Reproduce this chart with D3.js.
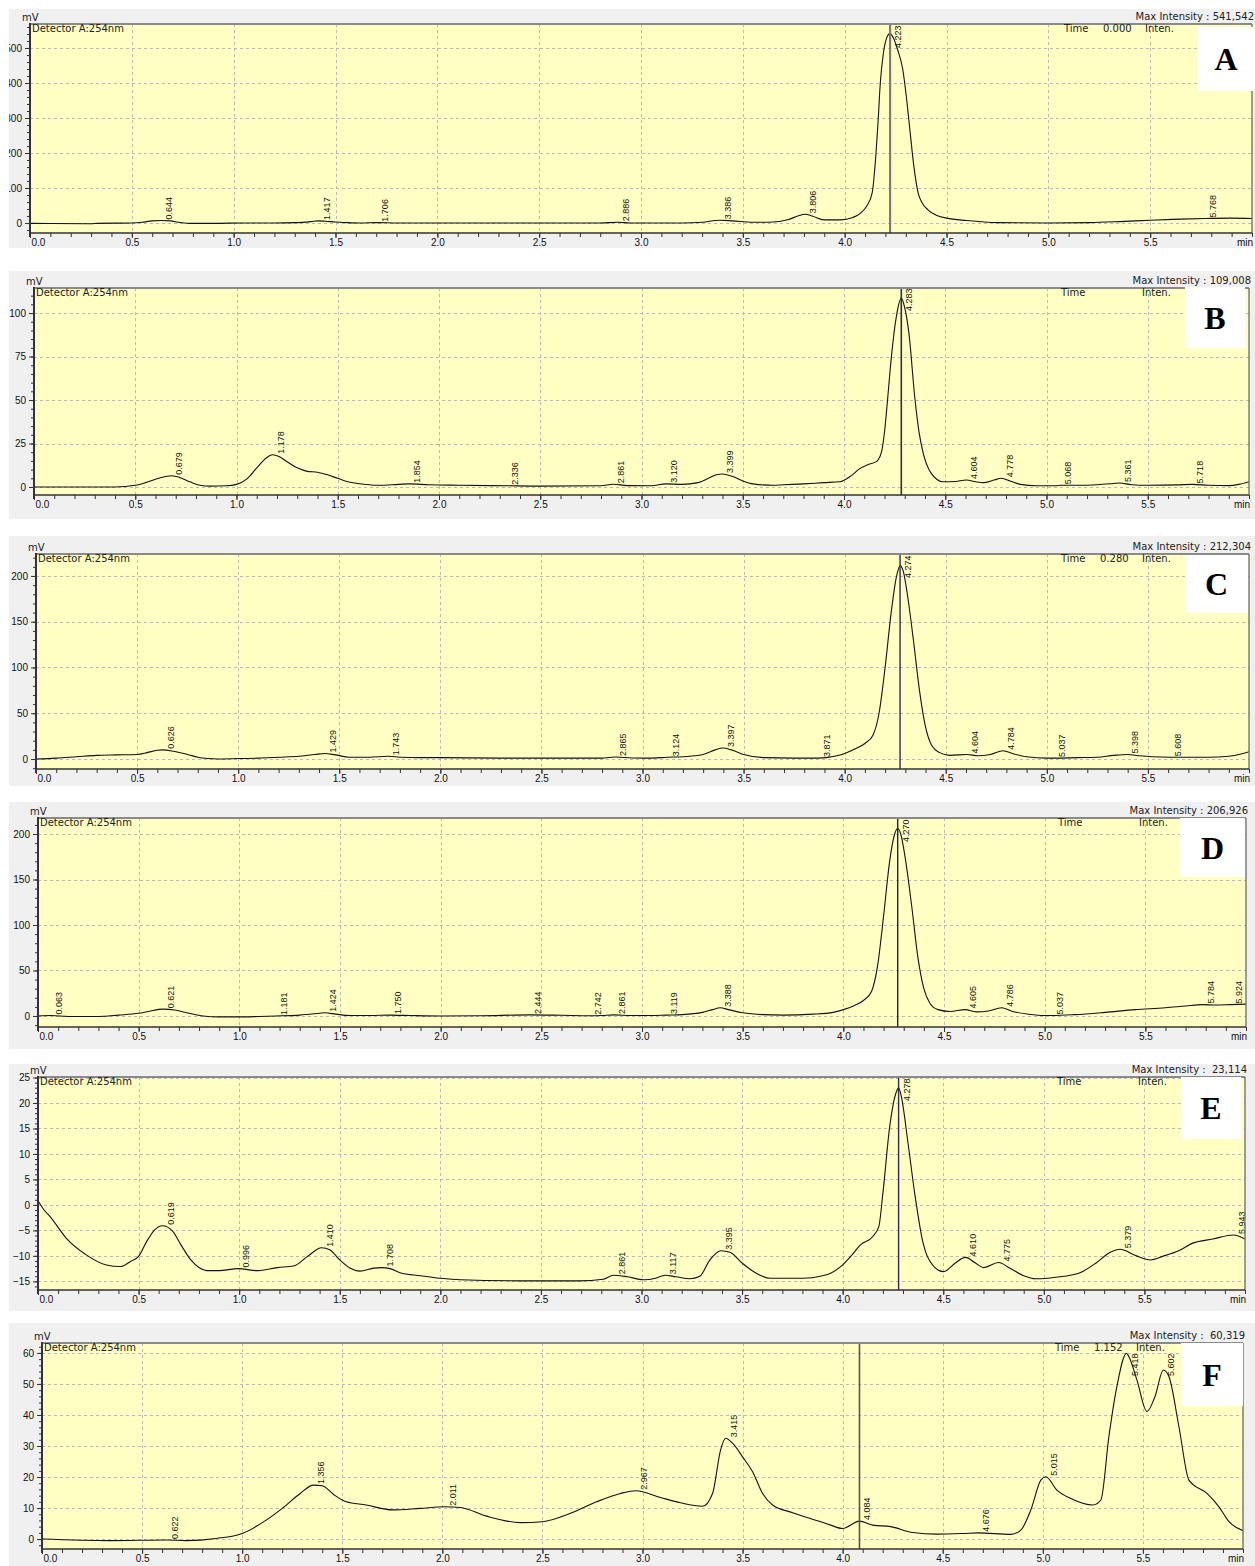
<!DOCTYPE html>
<html><head><meta charset="utf-8">
<script src="https://cdn.jsdelivr.net/npm/d3@7"></script>
<style>body{margin:0;background:#fff} svg{display:block}</style>
</head><body>
<svg id="c" width="1255" height="1566"></svg>
<script>
// ---------- DATA ----------
const traceA = [[0,-1],[0.1,-1.5],[0.3,-2],[0.33,-1],[0.5,0],[0.55,2],[0.6,6],[0.644,7],[0.69,6],[0.72,3],[0.78,-1],[0.9,-1],[1.05,0],[1.2,0],[1.3,1],[1.38,4],[1.417,6],[1.45,5],[1.5,3],[1.56,1],[1.62,0],[1.706,1],[1.8,0],[2.0,0],[2.5,0],[2.8,0],[2.886,2],[2.95,0],[3.2,0],[3.3,2],[3.386,8],[3.45,6],[3.55,2],[3.65,3],[3.72,9],[3.77,20],[3.806,25],[3.84,20],[3.9,9],[3.98,9],[4.04,16],[4.08,29],[4.11,50],[4.135,86],[4.15,170],[4.163,280],[4.175,400],[4.19,485],[4.205,527],[4.222,541],[4.24,528],[4.26,495],[4.285,440],[4.305,350],[4.322,256],[4.34,161],[4.361,85],[4.38,58],[4.41,37],[4.45,22],[4.5,14],[4.6,7],[4.75,1],[5.0,0],[5.2,1],[5.35,4],[5.5,8],[5.65,11],[5.768,13],[5.9,14],[6.0,13]];
const traceB = [[0,0],[0.4,0],[0.5,1],[0.55,2.5],[0.6,4.5],[0.65,6],[0.679,6.5],[0.72,5.5],[0.77,3],[0.82,1],[0.87,0.5],[0.95,0.7],[1.0,1.5],[1.05,4.5],[1.1,11],[1.15,17],[1.178,18.5],[1.21,17.5],[1.25,14.5],[1.3,11],[1.35,9],[1.4,8.5],[1.45,7],[1.5,5],[1.55,3],[1.6,2],[1.7,1],[1.8,1.5],[1.854,1.8],[1.95,1.3],[2.1,1],[2.336,0.7],[2.5,0.5],[2.8,0.7],[2.861,1.6],[2.93,0.8],[3.05,0.7],[3.12,1.8],[3.2,1.5],[3.28,2.5],[3.33,5],[3.37,7],[3.399,7.5],[3.45,6],[3.5,3.5],[3.55,1.8],[3.65,1],[3.7,1.3],[3.8,1.8],[3.9,2.5],[3.98,3],[4.03,6],[4.08,10.7],[4.12,13],[4.16,14.6],[4.185,20],[4.2,31.6],[4.215,50],[4.23,70],[4.26,99],[4.283,108.6],[4.3,103],[4.32,89],[4.35,51],[4.37,32],[4.39,20],[4.43,8],[4.49,3],[4.55,3.2],[4.604,4],[4.65,3],[4.69,2.5],[4.74,4],[4.778,5],[4.82,3.5],[4.87,1.5],[4.95,0.7],[5.05,0.7],[5.068,1],[5.15,1],[5.25,1.3],[5.33,2],[5.361,2.3],[5.42,1.3],[5.5,1],[5.65,1.2],[5.718,1.5],[5.8,1],[5.9,0.8],[5.95,1.5],[6.0,3]];
const traceC = [[0,0],[0.1,1],[0.2,2.5],[0.3,4],[0.4,4.5],[0.5,5],[0.55,7],[0.6,9.5],[0.626,10],[0.68,8.5],[0.75,5],[0.8,2],[0.85,0.5],[0.9,0],[1.0,0.5],[1.1,1],[1.2,2],[1.3,3],[1.38,5],[1.429,6],[1.48,4.5],[1.55,2],[1.65,2],[1.743,3],[1.8,2],[1.9,1.5],[2.0,1.5],[2.3,1],[2.6,1],[2.8,1],[2.865,2.2],[2.95,1.2],[3.05,1],[3.124,2],[3.2,2.5],[3.3,5],[3.36,10],[3.397,12],[3.44,10],[3.5,5],[3.6,1.5],[3.75,1],[3.871,1],[3.95,3],[4.0,6],[4.05,11],[4.1,17],[4.14,26],[4.17,50],[4.2,100],[4.23,160],[4.255,198],[4.274,211],[4.29,205],[4.31,180],[4.34,130],[4.37,75],[4.4,35],[4.43,15],[4.47,7],[4.52,4],[4.604,5],[4.66,3.5],[4.72,5],[4.784,9],[4.83,6],[4.9,2.5],[5.0,1],[5.037,1],[5.15,1.5],[5.25,2],[5.33,4],[5.398,5],[5.46,3.5],[5.52,2.5],[5.608,2],[5.7,2],[5.8,2],[5.9,3],[5.95,5],[6.0,8]];
const traceD = [[0,0],[0.063,0.5],[0.15,-0.5],[0.3,-0.5],[0.4,1],[0.5,3],[0.55,5],[0.621,7.5],[0.68,6.5],[0.75,3],[0.82,0],[0.9,-1],[1.0,-1],[1.1,-0.5],[1.181,0],[1.3,1],[1.4,3],[1.424,3.5],[1.48,2],[1.55,0.5],[1.65,0.5],[1.75,1],[1.85,0.5],[2.0,0],[2.2,0.3],[2.444,1.2],[2.6,0.8],[2.742,0.3],[2.8,0.5],[2.861,1.2],[2.95,0.5],[3.05,0.5],[3.119,1],[3.2,1.5],[3.3,4],[3.35,7],[3.388,9],[3.43,7],[3.5,3.5],[3.6,1.5],[3.7,1],[3.85,2],[3.95,4],[4.0,7],[4.05,11],[4.1,17],[4.14,27],[4.17,55],[4.2,110],[4.23,170],[4.255,200],[4.27,206],[4.285,200],[4.31,170],[4.34,120],[4.37,65],[4.4,30],[4.43,14],[4.47,7],[4.53,5],[4.605,7],[4.66,4.5],[4.72,5.5],[4.786,9],[4.84,5],[4.92,2],[5.0,0.5],[5.037,0.5],[5.15,1.5],[5.3,4],[5.45,7],[5.6,9],[5.7,11],[5.784,12.5],[5.85,12],[5.924,12.5],[6.0,13]];
const traceE = [[0,0.8],[0.03,-1],[0.06,-2.3],[0.14,-6.5],[0.24,-9.8],[0.34,-11.8],[0.41,-12.1],[0.46,-11.1],[0.5,-10.1],[0.54,-7.2],[0.58,-4.9],[0.619,-4.1],[0.67,-5.2],[0.71,-7.8],[0.76,-10.8],[0.84,-12.9],[0.9,-12.9],[0.996,-12.5],[1.09,-12.9],[1.19,-12.3],[1.27,-12],[1.34,-10.1],[1.41,-8.4],[1.45,-8.8],[1.5,-10.8],[1.55,-12.4],[1.6,-13],[1.67,-12.4],[1.708,-12.3],[1.75,-12.5],[1.8,-13.3],[1.9,-13.9],[2.0,-14.4],[2.1,-14.7],[2.4,-14.9],[2.69,-14.9],[2.81,-14.6],[2.861,-13.8],[2.93,-14.1],[3.01,-14.7],[3.07,-14.4],[3.117,-13.8],[3.17,-14.1],[3.24,-14.5],[3.29,-14],[3.34,-10.8],[3.395,-9],[3.44,-9.3],[3.5,-11.4],[3.57,-13.4],[3.64,-14.4],[3.8,-14.4],[3.9,-13.9],[3.94,-13.4],[3.99,-12.1],[4.04,-10.1],[4.09,-7.8],[4.15,-6.2],[4.18,-4.2],[4.2,2.3],[4.234,15.4],[4.267,22.2],[4.278,23],[4.292,21.2],[4.325,12.1],[4.358,2.3],[4.4,-7.5],[4.43,-10.8],[4.5,-13.1],[4.56,-11.4],[4.61,-10.3],[4.66,-11.4],[4.7,-12.3],[4.775,-11.3],[4.83,-12.4],[4.9,-13.9],[4.96,-14.5],[5.06,-14.2],[5.18,-13.3],[5.26,-11.4],[5.33,-9.3],[5.379,-8.7],[5.46,-10],[5.53,-10.8],[5.59,-10.1],[5.67,-9],[5.74,-7.5],[5.84,-6.7],[5.943,-5.9],[6.0,-6.7]];
const traceF = [[0,0],[0.34,-0.5],[0.622,-0.3],[0.72,-0.5],[0.87,0.2],[1.0,1.8],[1.12,6.1],[1.2,9.9],[1.29,14.7],[1.356,17.4],[1.4,17.2],[1.46,14.2],[1.52,12],[1.62,11],[1.75,9.4],[1.89,9.9],[2.011,10.4],[2.09,10.2],[2.22,7.4],[2.39,5.3],[2.5,5.6],[2.64,8.3],[2.77,12],[2.89,14.7],[2.967,15.6],[3.09,13.4],[3.19,11.7],[3.3,10.6],[3.35,14.7],[3.39,28.7],[3.415,32.5],[3.45,30.9],[3.5,26.5],[3.55,21.7],[3.6,14.7],[3.65,11],[3.75,8.5],[3.89,5.6],[3.94,4.5],[4.0,3.4],[4.084,5.8],[4.15,4.5],[4.24,4],[4.35,2.1],[4.47,1.6],[4.6,1.8],[4.676,2],[4.84,1.5],[4.89,2.9],[4.94,9.4],[4.99,19],[5.015,20.1],[5.07,15.8],[5.14,13.1],[5.25,11],[5.29,12.6],[5.33,33],[5.37,49.2],[5.418,59.9],[5.43,58.8],[5.47,51.3],[5.52,41.1],[5.56,45.9],[5.602,54.5],[5.63,52.4],[5.68,36.2],[5.73,19],[5.82,14.7],[5.88,10.4],[5.93,5.6],[6.0,2.7]];

const peaksA = [0.644,1.417,1.706,2.886,3.386,3.806,4.223,5.768];
const peaksB = [0.679,1.178,1.854,2.336,2.861,3.120,3.399,4.283,4.604,4.778,5.068,5.361,5.718];
const peaksC = [0.626,1.429,1.743,2.865,3.124,3.397,3.871,4.274,4.604,4.784,5.037,5.398,5.608];
const peaksD = [0.063,0.621,1.181,1.424,1.750,2.444,2.742,2.861,3.119,3.388,4.270,4.605,4.786,5.037,5.784,5.924];
const peaksE = [0.619,0.996,1.410,1.708,2.861,3.117,3.395,4.278,4.610,4.775,5.379,5.943];
const peaksF = [0.622,1.356,2.011,2.967,3.415,4.084,4.676,5.015,5.418,5.602];

const yTicksA = [0,100,200,300,400,500];
const yTicksB = [0,25,50,75,100];
const yTicksC = [0,50,100,150,200];
const yTicksD = [0,50,100,150,200];
const yTicksE = [-15,-10,-5,0,5,10,15,20,25];
const yTicksF = [0,10,20,30,40,50,60];
const xTicks = [0,0.5,1,1.5,2,2.5,3,3.5,4,4.5,5,5.5];

const letters = ["A","B","C","D","E","F"];
const maxIntensity = ["541,542","109,008","212,304","206,926"," 23,114"," 60,319"];
const cursorTimeText = ["0.000","","0.280","","","1.152"];
const cursorTimes = [4.223,4.283,4.274,4.270,4.278,4.084];

// ---------- LAYOUT ----------
const panels = [
 {trace:traceA,peaks:peaksA,yTicks:yTicksA,minor:20,bg:[9,9,1246,239],l:30,t:24,r:1252,b:233,yDom:[-28.6,568.6],box:[1197,27,58,64],pad:1,cur:{c:"#7a7a7a",w:2.2}},
 {trace:traceB,peaks:peaksB,yTicks:yTicksB,minor:5,bg:[9,271,1246,248],l:34,t:288,r:1249,b:495,yDom:[-4.6,114.4],box:[1185,287,60,61],pad:0,cur:{c:"#2e2e3e",w:1.6}},
 {trace:traceC,peaks:peaksC,yTicks:yTicksC,minor:10,bg:[9,536,1246,250],l:36,t:554,r:1249,b:769,yDom:[-10.9,224],box:[1185,555,63,58],pad:1,cur:{c:"#2a2a60",w:1.4}},
 {trace:traceD,peaks:peaksD,yTicks:yTicksD,minor:10,bg:[9,802,1246,247],l:38,t:818,r:1246,b:1027,yDom:[-12.1,217.6],box:[1180,818,65,59],pad:1,cur:{c:"#222230",w:1.4}},
 {trace:traceE,peaks:peaksE,yTicks:yTicksE,minor:1,bg:[9,1064,1246,247],l:38,t:1077,r:1245,b:1290,yDom:[-16.7,25.1],box:[1181,1077,60,62],pad:1,cur:{c:"#2a2a5a",w:1.4}},
 {trace:traceF,peaks:peaksF,yTicks:yTicksF,minor:2,bg:[9,1323,1246,243],l:42,t:1343,r:1243,b:1549,yDom:[-3.2,63.2],box:[1181,1343,62,63],pad:10,cur:{c:"#555",w:1.6}}
];

const svg = d3.select("#c");
const SANS = "'Liberation Sans', Arial, sans-serif";
const DJV = "'DejaVu Sans', Verdana, sans-serif";

panels.forEach((p, i) => {
  const g = svg.append("g");
  const cid = "clip" + i, pid = "pclip" + i;
  const defs = svg.append("defs");
  defs.append("clipPath").attr("id", cid).append("rect")
    .attr("x", p.bg[0]).attr("y", p.bg[1]).attr("width", p.bg[2]).attr("height", p.bg[3]);
  defs.append("clipPath").attr("id", pid).append("rect")
    .attr("x", p.l).attr("y", p.t).attr("width", p.r - p.l).attr("height", p.b - p.t);
  g.attr("clip-path", `url(#${cid})`);

  g.append("rect").attr("x", p.bg[0]).attr("y", p.bg[1]).attr("width", p.bg[2]).attr("height", p.bg[3]).attr("fill", "#f0f0f0");

  const x = d3.scaleLinear().domain([0, 6]).range([p.l, p.r]);
  const y = d3.scaleLinear().domain(p.yDom).range([p.b, p.t]);

  g.append("rect").attr("x", p.l).attr("y", p.t).attr("width", p.r - p.l).attr("height", p.b - p.t).attr("fill", "#ffffc4");

  // grid
  const grid = g.append("g").attr("stroke", "#b8b8b8").attr("stroke-width", 1).attr("stroke-dasharray", "3,3");
  xTicks.filter(d => d > 0).forEach(d => {
    grid.append("line").attr("x1", Math.round(x(d)) + 0.5).attr("x2", Math.round(x(d)) + 0.5).attr("y1", p.t).attr("y2", p.b);
  });
  p.yTicks.forEach(d => {
    const yy = Math.round(y(d)) + 0.5;
    if (yy > p.t + 1) grid.append("line").attr("x1", p.l).attr("x2", p.r).attr("y1", yy).attr("y2", yy);
  });

  // trace
  const line = d3.line().x(d => x(d[0])).y(d => y(d[1])).curve(d3.curveMonotoneX);
  g.append("path").datum(p.trace).attr("d", line).attr("fill", "none").attr("stroke", "#111").attr("stroke-width", 1.1)
    .attr("clip-path", `url(#${pid})`);

  // cursor
  const cx = x(cursorTimes[i]);
  g.append("line").attr("x1", cx).attr("x2", cx).attr("y1", p.t).attr("y2", p.b).attr("stroke", p.cur.c).attr("stroke-width", p.cur.w);

  // peak labels
  const bis = d3.bisector(d => d[0]).left;
  const valueAt = t => {
    const j = Math.max(1, Math.min(p.trace.length - 1, bis(p.trace, t)));
    const a = p.trace[j - 1], b = p.trace[j];
    return a[1] + (b[1] - a[1]) * (t - a[0]) / (b[0] - a[0]);
  };
  p.peaks.forEach(t => {
    const txt = t.toFixed(3);
    const len = 23;
    let by = y(valueAt(t)) - 1;
    by = Math.max(by, p.t + p.pad + len);
    const ax = x(t) + 11;
    g.append("text").attr("transform", `translate(${ax},${by}) rotate(-90)`)
      .attr("font-family", SANS).attr("font-size", 9).attr("fill", "#111").text(txt);
  });

  // axes
  const minorY = d3.range(Math.ceil(p.yDom[0] / p.minor) * p.minor, p.yDom[1] + 1e-9, p.minor);
  const yMinorAxis = d3.axisLeft(y).tickValues(minorY).tickSize(3).tickFormat("");
  const yMajorAxis = d3.axisLeft(y).tickValues(p.yTicks).tickSize(5).tickPadding(3).tickFormat(d3.format("d"));
  const gy1 = g.append("g").attr("transform", `translate(${p.l},0)`).call(yMinorAxis);
  const gy2 = g.append("g").attr("transform", `translate(${p.l},0)`).call(yMajorAxis);
  [gy1, gy2].forEach(a => { a.select(".domain").remove(); a.selectAll("line").attr("stroke", "#333"); });
  gy2.selectAll("text").attr("font-family", SANS).attr("font-size", 10).attr("fill", "#111");

  const minorX = d3.range(0, 61).map(k => k / 10);
  const xMinorAxis = d3.axisBottom(x).tickValues(minorX).tickSize(4).tickFormat("");
  const xMajorAxis = d3.axisBottom(x).tickValues(xTicks).tickSize(5).tickPadding(1).tickFormat(d3.format(".1f"));
  const gx1 = g.append("g").attr("transform", `translate(0,${p.b})`).call(xMinorAxis);
  const gx2 = g.append("g").attr("transform", `translate(0,${p.b})`).call(xMajorAxis);
  [gx1, gx2].forEach(a => { a.select(".domain").remove(); a.selectAll("line").attr("stroke", "#333"); });
  gx2.selectAll("text").attr("font-family", SANS).attr("font-size", 10).attr("fill", "#111");
  gx2.selectAll("text").filter(d => d === 0).attr("text-anchor", "start").attr("x", 1);
  g.append("text").attr("x", p.r + 1).attr("y", p.b + 13).attr("text-anchor", "end")
    .attr("font-family", SANS).attr("font-size", 10).attr("fill", "#111").text("min");

  // frame
  g.append("line").attr("x1", p.l).attr("x2", p.r).attr("y1", p.t).attr("y2", p.t).attr("stroke", "#8a8a8a").attr("stroke-width", 2);
  g.append("line").attr("x1", p.r).attr("x2", p.r).attr("y1", p.t).attr("y2", p.b).attr("stroke", "#6a6a6a").attr("stroke-width", 1.3);
  g.append("line").attr("x1", p.l).attr("x2", p.r).attr("y1", p.b).attr("y2", p.b).attr("stroke", "#333").attr("stroke-width", 1.5);
  g.append("line").attr("x1", p.l).attr("x2", p.l).attr("y1", p.t - 1).attr("y2", p.b + 4).attr("stroke", "#333").attr("stroke-width", 2);

  // header texts
  const ht = (tx, ty, s, anchor) => g.append("text").attr("x", tx).attr("y", ty).attr("text-anchor", anchor || "start")
    .attr("font-family", DJV).attr("font-size", 10).attr("fill", "#222").text(s);
  ht(p.l - 8, p.t - 3, "mV");
  ht(p.l + 2, p.t + 8, "Detector A:254nm");
  ht(p.r + 2, p.t - 4, "Max Intensity : " + maxIntensity[i], "end").style("white-space", "pre");
  ht(p.r - 188, p.t + 8, "Time");
  if (cursorTimeText[i]) ht(p.r - 149, p.t + 8, cursorTimeText[i]);
  ht(p.r - 107, p.t + 8, "Inten.");

  // letter box
  g.append("rect").attr("x", p.box[0]).attr("y", p.box[1]).attr("width", p.box[2]).attr("height", p.box[3]).attr("fill", "#fff");
  g.append("text").attr("x", p.box[0] + p.box[2] / 2).attr("y", p.box[1] + p.box[3] / 2 + 11).attr("text-anchor", "middle")
    .attr("font-family", "'Liberation Serif', 'Times New Roman', serif").attr("font-weight", "bold").attr("font-size", 32)
    .attr("fill", "#000").text(letters[i]);
});
</script>
</body></html>
